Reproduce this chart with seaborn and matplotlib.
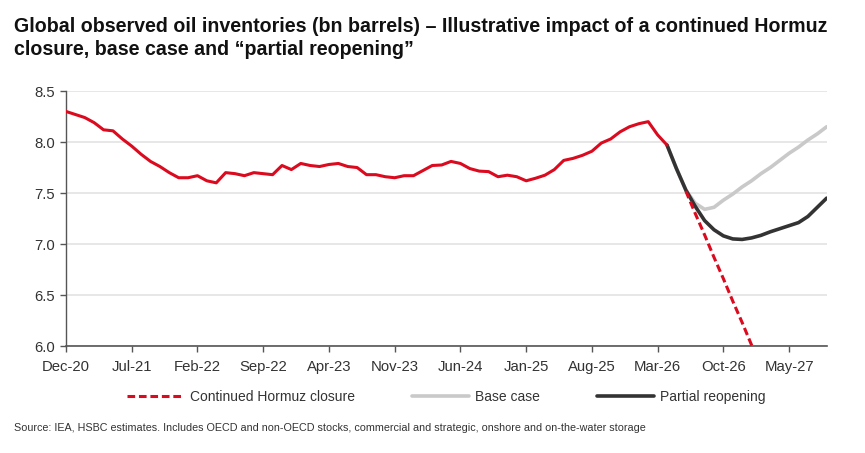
import numpy as np
import pandas as pd
import matplotlib
matplotlib.use("Agg")
import matplotlib.pyplot as plt
import seaborn as sns

# ---- data (months since Dec-20) ----
tick_labels = ["Dec-20", "Jul-21", "Feb-22", "Sep-22", "Apr-23", "Nov-23",
               "Jun-24", "Jan-25", "Aug-25", "Mar-26", "Oct-26", "May-27"]

hist_start = 0
hist_values = [8.30, 8.27, 8.24, 8.19, 8.12, 8.11, 8.03, 7.96, 7.88, 7.81,
               7.76, 7.70, 7.65, 7.65, 7.67, 7.62, 7.60, 7.70, 7.69, 7.67,
               7.70, 7.69, 7.68, 7.77, 7.73, 7.79, 7.77, 7.76, 7.78, 7.79,
               7.76, 7.75, 7.68, 7.68, 7.66, 7.65, 7.67, 7.67, 7.72, 7.77,
               7.775, 7.81, 7.79, 7.74, 7.715, 7.71, 7.66, 7.675, 7.66, 7.62,
               7.645, 7.675, 7.73, 7.82, 7.84, 7.87, 7.91, 7.99, 8.03, 8.10,
               8.15, 8.18, 8.20, 8.07, 7.97]

partial_start = 64
partial_values = [7.97, 7.74, 7.53, 7.37, 7.23, 7.14, 7.08, 7.05, 7.045,
                  7.06, 7.085, 7.12, 7.15, 7.18, 7.21, 7.27, 7.36, 7.45]

base_start = 64
base_values = [7.97, 7.74, 7.53, 7.40, 7.34, 7.36, 7.43, 7.49, 7.56, 7.62,
               7.69, 7.75, 7.82, 7.89, 7.95, 8.02, 8.08, 8.15]

closure_start = 66
closure_values = [7.52, 7.30, 7.09, 6.87, 6.66, 6.44, 6.23, 6.01, 5.80]

series_names = ["Continued Hormuz closure", "Base case", "Partial reopening"]

# ---- styling ----
sns.set_theme(style="white")
plt.rcParams["font.family"] = ["Liberation Sans", "DejaVu Sans"]

RED = "#DB0A1E"
GREY = "#C9C9C9"
DARK = "#333333"

fig = plt.figure(figsize=(8.65, 4.53), dpi=100)
ax = fig.add_axes([0.0763, 0.2362, 0.8794, 0.5628])

def frame(start, vals):
    return pd.DataFrame({"month": np.arange(start, start + len(vals)),
                         "value": vals})

sns.lineplot(data=frame(base_start, base_values), x="month", y="value",
             ax=ax, color=GREY, lw=2.6, label=series_names[1], zorder=2)
sns.lineplot(data=frame(partial_start, partial_values), x="month", y="value",
             ax=ax, color=DARK, lw=2.6, label=series_names[2], zorder=3)
sns.lineplot(data=frame(closure_start, closure_values), x="month", y="value",
             ax=ax, color=RED, lw=2.2, ls=(0, (2.5, 1.25)),
             label=series_names[0], zorder=4)
sns.lineplot(data=frame(hist_start, hist_values), x="month", y="value",
             ax=ax, color=RED, lw=2.2, legend=False, zorder=5)

ax.set_xlim(0, 81)
ax.set_ylim(6.0, 8.5)
ax.set_yticks(np.arange(6.0, 8.51, 0.5))
ax.set_yticklabels([f"{v:.1f}" for v in np.arange(6.0, 8.51, 0.5)])
ax.set_xticks(np.arange(0, 7 * len(tick_labels), 7))
ax.set_xticklabels(tick_labels)
ax.set_xlabel("")
ax.set_ylabel("")

ax.grid(axis="y", color="#E3E3E3", lw=1.2)
ax.grid(axis="x", visible=False)
for s in ["top", "right"]:
    ax.spines[s].set_visible(False)
ax.spines["left"].set_color("#555555")
ax.spines["left"].set_linewidth(1.0)
ax.spines["bottom"].set_color("#555555")
ax.spines["bottom"].set_linewidth(1.2)
ax.tick_params(axis="both", which="both", length=4, width=1.0,
               color="#555555", labelsize=10.7, labelcolor="#333333",
               direction="out")
ax.tick_params(axis="x", bottom=True, pad=6)
ax.tick_params(axis="y", left=True, pad=4)

# legend below
handles, labels = ax.get_legend_handles_labels()
order = [labels.index(n) for n in series_names]
ax.legend([handles[i] for i in order], [labels[i] for i in order],
          loc="center", bbox_to_anchor=(0.5, -0.2), ncol=3, frameon=False,
          fontsize=10, handlelength=4.1, columnspacing=4.1,
          handletextpad=0.45, labelcolor="#333333")

fig.text(0.016, 0.962,
         "Global observed oil inventories (bn barrels) \u2013 Illustrative impact of a continued Hormuz\n"
         "closure, base case and \u201cpartial reopening\u201d",
         fontsize=14.1, fontweight="bold", color="#111111", va="top",
         ha="left", linespacing=1.22)

fig.text(0.016, 0.055,
         "Source: IEA, HSBC estimates. Includes OECD and non-OECD stocks, commercial and strategic, onshore and on-the-water storage",
         fontsize=7.75, color="#333333", ha="left", va="center")

fig.savefig("out.png", dpi=100)
